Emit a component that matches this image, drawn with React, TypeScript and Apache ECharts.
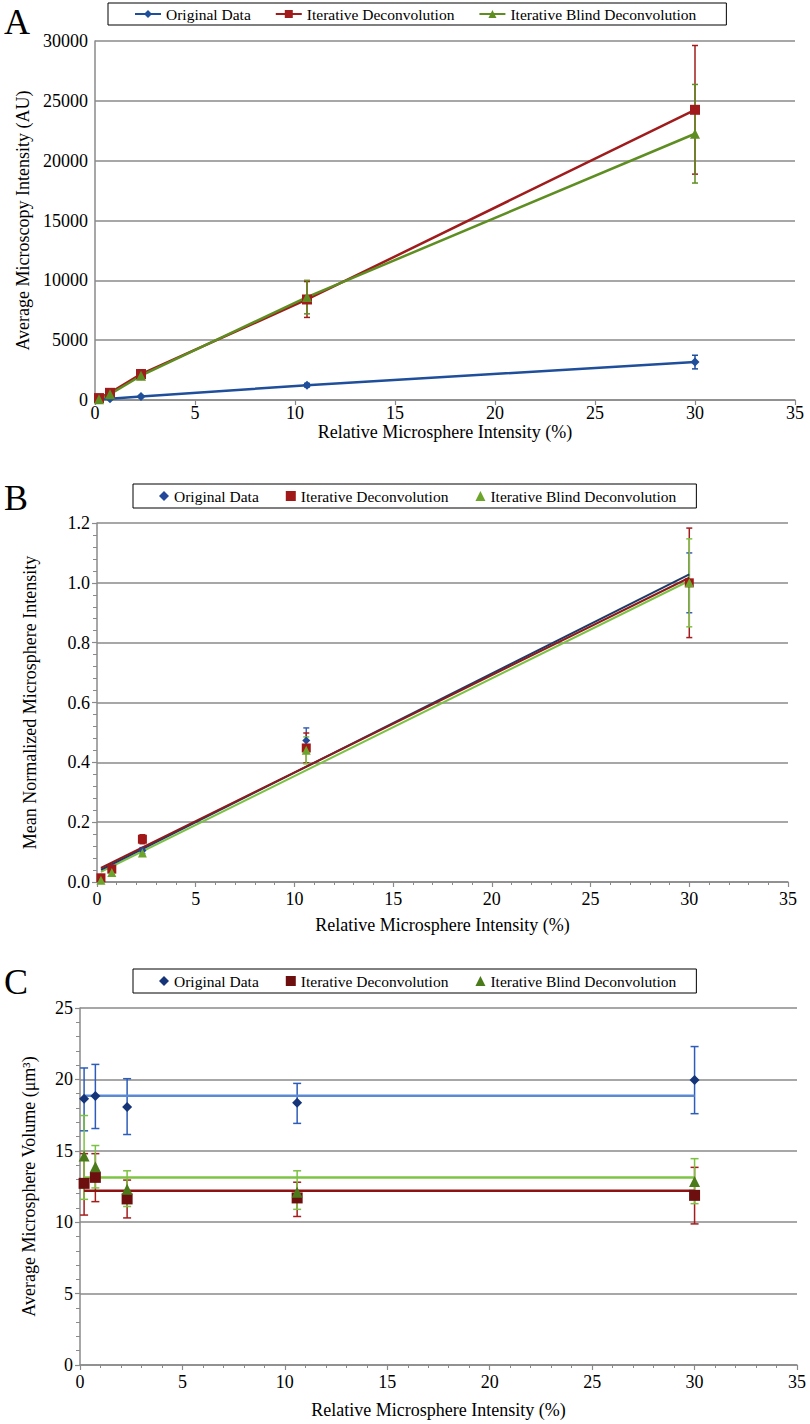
import React, { useEffect, useRef } from "react";
import * as echarts from "echarts";

// ---------- data ----------
const X = [0.2, 0.75, 2.3, 10.6, 30];

// Panel A
const aOrig = [60, 110, 290, 1240, 3170];
const aOrigErr = [40, 60, 80, 150, 570];
const aIter = [160, 600, 2170, 8400, 24250];
const aIterErr = [60, 120, 350, 1500, 5375];
const aBlind = [60, 480, 2030, 8600, 22250];
const aBlindErr = [40, 100, 200, 1400, 4120];

// Panel B
const bOrig = [0.015, 0.048, 0.105, 0.473, 1.0];
const bOrigErr = [0.004, 0.008, 0.01, 0.042, 0.1];
const bIter = [0.014, 0.043, 0.143, 0.448, 1.0];
const bIterErr = [0.006, 0.01, 0.015, 0.05, 0.183];
const bBlind = [0.006, 0.032, 0.097, 0.44, 1.0];
const bBlindErr = [0.004, 0.008, 0.008, 0.045, 0.147];
const bFitX = [0.2, 30];
const bOrigFit = [0.041, 1.028];
const bIterFit = [0.047, 1.017];
const bBlindFit = [0.034, 1.007];

// Panel C
const cOrig = [18.65, 18.84, 18.07, 18.36, 19.95];
const cOrigLo = [16.4, 16.56, 16.14, 16.92, 17.6];
const cOrigHi = [20.8, 21.05, 20.05, 19.72, 22.3];
const cIter = [12.72, 13.14, 11.63, 11.7, 11.88];
const cIterLo = [10.5, 11.44, 10.3, 10.4, 9.88];
const cIterHi = [14.8, 14.8, 12.95, 12.8, 13.84];
const cBlind = [14.63, 13.88, 12.3, 12.1, 12.85];
const cBlindLo = [11.6, 12.4, 11.1, 10.9, 11.3];
const cBlindHi = [17.47, 15.37, 13.6, 13.6, 14.45];
const cLineX = [0.2, 30];
const cOrigMean = 18.85;
const cIterMean = 12.2;
const cBlindMean = 13.13;

const names = ["Original Data", "Iterative Deconvolution", "Iterative Blind Deconvolution"];

const FONT = "'Liberation Serif', 'Times New Roman', serif";

function pts(xs: number[], ys: number[]) {
  return xs.map((x, i) => [x, ys[i]]);
}
function symErr(xs: number[], ys: number[], e: number[]) {
  return xs.map((x, i) => [x, ys[i] - e[i], ys[i] + e[i]]);
}
function loHi(xs: number[], lo: number[], hi: number[]) {
  return xs.map((x, i) => [x, lo[i], hi[i]]);
}

function errSeries(idx: number, data: number[][], color: string, cap: number, width = 1.5) {
  return {
    type: "custom",
    xAxisIndex: idx,
    yAxisIndex: idx,
    z: 2,
    silent: true,
    encode: { x: 0, y: [1, 2] },
    data,
    renderItem: (params: any, api: any) => {
      const x = api.value(0);
      const a = api.coord([x, api.value(2)]);
      const b = api.coord([x, api.value(1)]);
      const st = { stroke: color, lineWidth: width };
      return {
        type: "group",
        children: [
          { type: "line", shape: { x1: a[0], y1: a[1], x2: b[0], y2: b[1] }, style: st },
          { type: "line", shape: { x1: a[0] - cap, y1: a[1], x2: a[0] + cap, y2: a[1] }, style: st },
          { type: "line", shape: { x1: b[0] - cap, y1: b[1], x2: b[0] + cap, y2: b[1] }, style: st },
        ],
      };
    },
  };
}

const gridColor = "#8a8a8a";

function xAxisDef(idx: number, minor: boolean, labelMargin: number, nameGap: number) {
  return {
    type: "value",
    gridIndex: idx,
    min: 0,
    max: 35,
    interval: 5,
    name: "Relative Microsphere Intensity (%)",
    nameLocation: "middle",
    nameGap,
    nameTextStyle: { fontFamily: FONT, fontSize: 18, color: "#000" },
    axisLine: { show: true, lineStyle: { color: gridColor, width: 1.5 } },
    axisTick: { show: true, length: 5, lineStyle: { color: gridColor, width: 1.2 } },
    minorTick: { show: minor, splitNumber: 5, length: 3, lineStyle: { color: gridColor, width: 1 } },
    axisLabel: { fontFamily: FONT, fontSize: 18, color: "#000", margin: labelMargin },
    splitLine: { show: false },
  };
}

function yAxisDef(idx: number, min: number, max: number, interval: number, name: string, nameGap: number, minor: boolean, fmt: (v: number) => string) {
  return {
    type: "value",
    gridIndex: idx,
    min,
    max,
    interval,
    name,
    nameLocation: "middle",
    nameGap,
    nameTextStyle: { fontFamily: FONT, fontSize: 18, color: "#000" },
    axisLine: { show: true, lineStyle: { color: gridColor, width: 1.5 } },
    axisTick: { show: minor, length: 5, lineStyle: { color: gridColor, width: 1.2 } },
    minorTick: { show: minor, splitNumber: 5, length: 4, lineStyle: { color: gridColor, width: 1 } },
    axisLabel: { fontFamily: FONT, fontSize: 18, color: "#000", margin: 7, formatter: fmt },
    splitLine: { show: true, lineStyle: { color: gridColor, width: 1.5 } },
  };
}

function legendDef(data: string[], left: number, top: number, iconW: number, iconH: number, gap: number, pad: number[]) {
  return {
    data,
    left,
    top,
    orient: "horizontal",
    itemWidth: iconW,
    itemHeight: iconH,
    itemGap: gap,
    padding: pad,
    borderColor: "#000",
    borderWidth: 1,
    backgroundColor: "#fff",
    selectedMode: false,
    formatter: (n: string) => n.trim(),
    textStyle: { fontFamily: FONT, fontSize: 15.5, color: "#000" },
  };
}

export default function App() {
  const ref = useRef<HTMLDivElement>(null);
  useEffect(() => {
    if (!ref.current) return;
    const chart = echarts.init(ref.current, undefined, { renderer: "svg" });

    const A = { blue: "#1f4e9a", red: "#a01c1c", green: "#5e8e22" };
    const B = {
      blue: "#24479a", red: "#a01818", green: "#6da52c",
      fitBlue: "#1f3a68", fitRed: "#8e1b1b", fitGreen: "#7cc242",
      eBlue: "#3a62b5", eRed: "#a51c1c", eGreen: "#7cc242",
    };
    const C = {
      blue: "#163478", red: "#6e0f0f", green: "#4b7a1a",
      lBlue: "#5a8ad6", lRed: "#8e1212", lGreen: "#7dc443",
      eBlue: "#2d5db8", eRed: "#a51c1c", eGreen: "#7cc242",
    };

    const bNames = names.map((n) => n + " ");
    const cNames = names.map((n) => n + "  ");

    const aLine = (name: string, data: number[], color: string, symbol: string, size: number) => ({
      type: "line",
      name,
      xAxisIndex: 0,
      yAxisIndex: 0,
      data: pts(X, data),
      symbol,
      symbolSize: size,
      showAllSymbol: true,
      z: 3,
      lineStyle: { color, width: 2.5 },
      itemStyle: { color },
    });

    const scat = (idx: number, name: string, data: number[], color: string, symbol: string, size: number) => ({
      type: "scatter",
      name,
      xAxisIndex: idx,
      yAxisIndex: idx,
      data: pts(X, data),
      symbol,
      symbolSize: size,
      z: 5,
      itemStyle: { color, opacity: 1 },
    });

    const fit = (idx: number, xs: number[], ys: number[], color: string, width: number) => ({
      type: "line",
      xAxisIndex: idx,
      yAxisIndex: idx,
      data: pts(xs, ys),
      symbol: "none",
      silent: true,
      z: 3,
      lineStyle: { color, width },
    });

    chart.setOption({
      animation: false,
      textStyle: { fontFamily: FONT },
      grid: [
        { left: 95, top: 41, width: 700, height: 359 },
        { left: 97, top: 523, width: 691, height: 359 },
        { left: 80, top: 1008, width: 717, height: 357 },
      ],
      xAxis: [
        xAxisDef(0, false, 4, 21),
        xAxisDef(1, true, 8, 34),
        xAxisDef(2, true, 8, 36),
      ],
      yAxis: [
        yAxisDef(0, 0, 30000, 5000, "Average Microscopy Intensity (AU)", 63, false, (v: number) => String(v)),
        yAxisDef(1, 0, 1.2, 0.2, "Mean Normalized Microsphere Intensity", 58, true, (v: number) => v.toFixed(1)),
        yAxisDef(2, 0, 25, 5, "Average Microsphere Volume (\u03bcm\u00b3)", 42, true, (v: number) => String(v)),
      ],
      legend: [
        legendDef(names, 108, 3, 26, 10, 24, [3, 30, 3, 26]),
        legendDef(bNames, 133, 484, 10, 10, 27, [4, 20, 4, 26]),
        legendDef(cNames, 133, 969, 10, 10, 27, [4, 20, 4, 26]),
      ],
      graphic: [
        { type: "text", left: 4, top: 4, style: { text: "A", fontFamily: FONT, fontSize: 36, fill: "#000" } },
        { type: "text", left: 4, top: 480, style: { text: "B", fontFamily: FONT, fontSize: 36, fill: "#000" } },
        { type: "text", left: 4, top: 964, style: { text: "C", fontFamily: FONT, fontSize: 36, fill: "#000" } },
      ],
      series: [
        errSeries(0, symErr(X, aOrig, aOrigErr), A.blue, 3),
        errSeries(0, symErr(X, aIter, aIterErr), A.red, 3),
        errSeries(0, symErr(X, aBlind, aBlindErr), A.green, 3),
        aLine(names[0], aOrig, A.blue, "diamond", 9),
        aLine(names[1], aIter, A.red, "rect", 10),
        aLine(names[2], aBlind, A.green, "triangle", 10),

        errSeries(1, symErr(X, bOrig, bOrigErr), B.eBlue, 3),
        errSeries(1, symErr(X, bIter, bIterErr), B.eRed, 3),
        errSeries(1, symErr(X, bBlind, bBlindErr), B.eGreen, 3),
        fit(1, bFitX, bBlindFit, B.fitGreen, 2),
        fit(1, bFitX, bOrigFit, B.fitBlue, 2),
        fit(1, bFitX, bIterFit, B.fitRed, 2),
        scat(1, bNames[0], bOrig, B.blue, "diamond", 8),
        scat(1, bNames[1], bIter, B.red, "rect", 9),
        scat(1, bNames[2], bBlind, B.green, "triangle", 9),

        errSeries(2, loHi(X, cOrigLo, cOrigHi), C.eBlue, 4),
        errSeries(2, loHi(X, cIterLo, cIterHi), C.eRed, 4),
        errSeries(2, loHi(X, cBlindLo, cBlindHi), C.eGreen, 4),
        fit(2, cLineX, [cOrigMean, cOrigMean], C.lBlue, 2.5),
        fit(2, cLineX, [cIterMean, cIterMean], C.lRed, 2.5),
        fit(2, cLineX, [cBlindMean, cBlindMean], C.lGreen, 2.5),
        scat(2, cNames[0], cOrig, C.blue, "diamond", 10),
        scat(2, cNames[1], cIter, C.red, "rect", 11),
        scat(2, cNames[2], cBlind, C.green, "triangle", 11),
      ],
    });
    return () => chart.dispose();
  }, []);

  return (
    <div
      ref={ref}
      style={{ position: "absolute", left: 0, top: 0, width: 810, height: 1424, background: "#fff" }}
    />
  );
}
